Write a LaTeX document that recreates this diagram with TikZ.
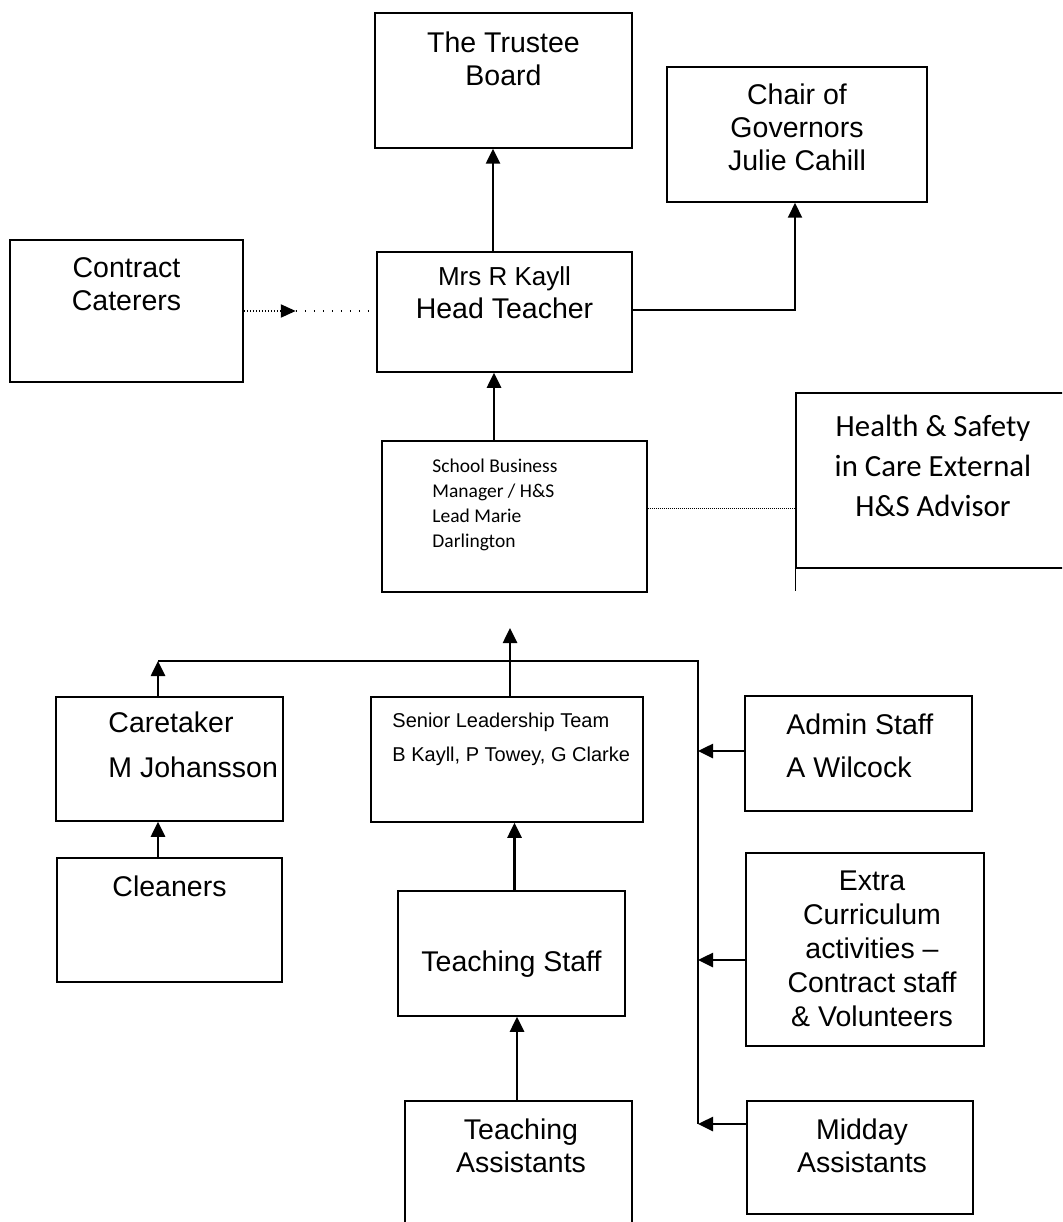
\documentclass[tikz,border=0pt]{standalone}
\usepackage{fontspec}
\setmainfont{Liberation Sans}
\newfontfamily\calibrifont{Carlito}
\usepackage{tikz}
\usetikzlibrary{positioning,arrows.meta}

\tikzset{
  box/.style={draw, line width=1.5pt, inner sep=0pt},
  lbl/.style={inner sep=0pt, align=center, font=\fontsize{28.5}{33}\selectfont},
  lblleft/.style={inner sep=0pt, align=left, font=\fontsize{28.5}{33}\selectfont},
  arr/.style={line width=2.6pt, -{Triangle[length=15pt,width=14pt]}},
  busline/.style={line width=1.5pt},
}

\begin{document}
\begin{tikzpicture}[x=1pt, y=-1pt]

            \fill[white] (0,0) rectangle (1062,1222);
            \useasboundingbox (0,0) rectangle (1062,1222);
            \clip (0,0) rectangle (1062,1222);

            % Boxes

            \node[box, minimum width=257, minimum height=135] (trustee) at (503.5,80.5) {};
            \node[box, minimum width=260, minimum height=135] (chair) at (797,134.5) {};
            \node[box, minimum width=255, minimum height=120] (head) at (504.5,312) {};
            \node[box, minimum width=233, minimum height=142] (caterers) at (126.5,311) {};
            \node[box, minimum width=265, minimum height=151] (sbm) at (514.5,516.5) {};
            \node[box, minimum width=290, minimum height=175] (hs) at (941,480.5) {};
            \node[box, minimum width=227, minimum height=124] (caretaker) at (169.5,759) {};
            \node[box, minimum width=225, minimum height=124] (cleaners) at (169.5,920) {};
            \node[box, minimum width=272, minimum height=125] (slt) at (507,759.5) {};
            \node[box, minimum width=227, minimum height=125] (tstaff) at (511.5,953.5) {};
            \node[box, minimum width=227, minimum height=139] (tassist) at (518.5,1170.5) {};
            \node[box, minimum width=227, minimum height=115] (admin) at (858.5,753.5) {};
            \node[box, minimum width=238, minimum height=193] (extra) at (865,949.5) {};
            \node[box, minimum width=226, minimum height=113] (midday) at (860,1157.5) {};

            % Labels

            \node[lbl, below=19.5pt of trustee.north] (trusteetxt) {The Trustee\\Board};
            \node[lbl, below=17.5pt of chair.north] (chairtxt) {Chair of\\Governors\\Julie Cahill};
            \node[lbl, below=15.5pt of head.north] (headtxt) {{\fontsize{26}{33}\selectfont Mrs R Kayll}\\Head Teacher};
            \node[lbl, below=18.5pt of caterers.north] (caterertxt) {Contract\\Caterers};
            \node[lblleft, below right=18.5pt and 51pt of sbm.north west,
                  font=\calibrifont\fontsize{19.5}{25}\selectfont] (sbmtxt) {School Business\\Manager / H\&S\\Lead Marie\\Darlington};
            \node[lbl, below=22.5pt of hs.north, xshift=-8pt,
                  font=\calibrifont\fontsize{30.8}{40}\selectfont] (hstxt) {Health \& Safety\\in Care External\\H\&S Advisor};
            \node[lblleft, below right=16.5pt and 22pt of slt.north west,
                  font=\fontsize{20}{34}\selectfont] (slttxt) {Senior Leadership Team\\B Kayll, P Towey, G Clarke};
            \node[lblleft, below right=15.5pt and 53pt of caretaker.north west,
                  font=\fontsize{28.5}{45}\selectfont] (caretakertxt) {Caretaker\\M Johansson};
            \node[lbl, below=18.5pt of cleaners.north] (cleanerstxt) {Cleaners};
            \node[lblleft, below right=18.5pt and 42pt of admin.north west,
                  font=\fontsize{28.5}{43}\selectfont] (admintxt) {Admin Staff\\A Wilcock};
            \node[lbl, below=18.5pt of extra.north, xshift=7pt,
                  font=\fontsize{28.5}{34}\selectfont] (extratxt) {Extra\\Curriculum\\activities --\\Contract staff\\\& Volunteers};
            \node[lbl, below=60.5pt of tstaff.north] (tstafftxt) {Teaching Staff};
            \node[lbl, below=18.5pt of tassist.north, xshift=2.5pt] (tassisttxt) {Teaching\\Assistants};
            \node[lbl, below=18.5pt of midday.north, xshift=2pt] (middaytxt) {Midday\\Assistants};

            % Upper edges

            \draw[arr] ([xshift=-11.5pt]head.north) -- ([xshift=-11.5pt]head.north |- trustee.south);
            \draw[arr, line width=2pt] ([yshift=2pt]head.east) -| ([xshift=-2pt]chair.south);
            \draw[arr] ([xshift=-20.5pt]sbm.north) -- ([xshift=-20.5pt]sbm.north |- head.south);
            \draw[line width=2.2pt, dash pattern=on 1.6pt off 1.4pt, -{Triangle[length=15pt,width=13pt]}]
                  (caterers.east) -- ([xshift=52pt]caterers.east) coordinate (catertip);
            \draw[line width=1.2pt, dash pattern=on 1.4pt off 7.6pt] (catertip) -- (head.west |- catertip);
            \draw[line width=1pt, dash pattern=on 1pt off 1pt] ([yshift=8.5pt]sbm.east) -- ([yshift=8.5pt]sbm.east -| hs.west);
            \draw[line width=1.5pt] (hs.south west) -- ++(0,22);

            % Lower edges

            \coordinate (lbend) at (158,661);
            \coordinate (rbend) at (698,661);
            \coordinate (uptip) at (510,628);

            \draw[busline] (lbend) -- (rbend) -- (rbend |- 0,1124);
            \draw[arr] ([xshift=3pt]slt.north) -- (uptip);
            \draw[arr] ([xshift=-11.5pt]caretaker.north) -- (lbend);
            \draw[arr] ([xshift=-11.5pt]cleaners.north) -- ([xshift=-11.5pt]caretaker.south);
            \draw[arr] ([xshift=3pt]tstaff.north) -- ([xshift=3pt]tstaff.north |- slt.south);
            \draw[arr] ([xshift=-1.5pt]tassist.north) -- ([xshift=-1.5pt]tassist.north |- tstaff.south);
            \draw[arr] ([yshift=2.5pt]admin.west) -- ([yshift=2.5pt]admin.west -| rbend);
            \draw[arr] ([yshift=-10.5pt]extra.west) -- ([yshift=-10.5pt]extra.west -| rbend);
            \draw[arr] ([yshift=33.5pt]midday.west) -- ([yshift=33.5pt]midday.west -| rbend);

\end{tikzpicture}
\end{document}
